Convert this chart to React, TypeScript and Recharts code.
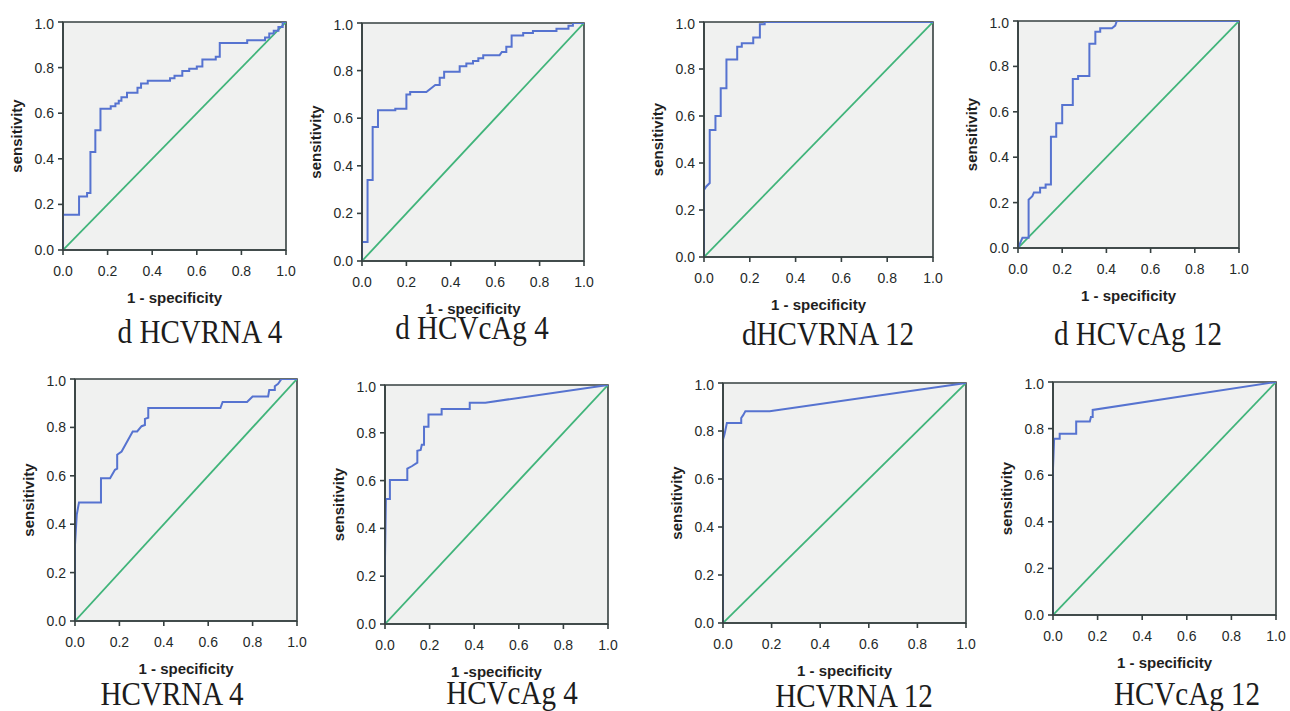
import { LineChart, Line, XAxis, YAxis, ReferenceArea } from 'recharts';

type Pt = [number, number];

// ROC coordinates (1 - specificity, sensitivity)
const dHcvRna4: Pt[] = [
    [0, 0], [0, 0.155], [0.072, 0.155], [0.072, 0.235], [0.108, 0.235], [0.108, 0.25],
    [0.123, 0.25], [0.123, 0.43], [0.145, 0.43], [0.145, 0.525], [0.168, 0.525], [0.168, 0.62],
    [0.214, 0.62], [0.214, 0.63], [0.235, 0.63], [0.235, 0.642], [0.25, 0.642], [0.25, 0.655],
    [0.262, 0.655], [0.262, 0.67], [0.287, 0.67], [0.287, 0.69], [0.334, 0.69], [0.334, 0.712],
    [0.35, 0.712], [0.35, 0.73], [0.38, 0.73], [0.38, 0.742], [0.48, 0.742], [0.48, 0.753],
    [0.5, 0.753], [0.5, 0.764], [0.535, 0.764], [0.535, 0.785], [0.566, 0.785], [0.566, 0.795],
    [0.6, 0.795], [0.6, 0.805], [0.625, 0.805], [0.625, 0.835], [0.685, 0.835], [0.685, 0.848],
    [0.703, 0.848], [0.703, 0.908], [0.826, 0.908], [0.826, 0.92], [0.906, 0.92], [0.906, 0.932],
    [0.925, 0.932], [0.925, 0.95], [0.945, 0.95], [0.945, 0.962], [0.966, 0.962], [0.966, 0.978],
    [0.985, 0.978], [0.985, 1], [1, 1],
];

const dHcvcAg4: Pt[] = [
    [0, 0], [0, 0.08], [0.025, 0.08], [0.025, 0.34], [0.048, 0.34], [0.048, 0.563],
    [0.072, 0.563], [0.072, 0.633], [0.15, 0.633], [0.15, 0.64], [0.2, 0.64], [0.2, 0.7],
    [0.217, 0.7], [0.217, 0.71], [0.29, 0.71], [0.31, 0.725], [0.33, 0.74], [0.35, 0.74],
    [0.35, 0.77], [0.37, 0.77], [0.37, 0.795], [0.44, 0.795], [0.44, 0.818], [0.47, 0.818],
    [0.47, 0.83], [0.5, 0.83], [0.5, 0.84], [0.524, 0.84], [0.524, 0.852], [0.546, 0.852],
    [0.546, 0.865], [0.62, 0.865], [0.63, 0.878], [0.65, 0.878], [0.65, 0.9], [0.674, 0.9],
    [0.674, 0.948], [0.726, 0.948], [0.726, 0.958], [0.77, 0.958], [0.77, 0.966], [0.876, 0.966],
    [0.876, 0.976], [0.93, 0.976], [0.93, 0.988], [0.95, 0.988], [0.95, 1], [1, 1],
];

const dHcvRna12: Pt[] = [
    [0, 0], [0, 0.285], [0.01, 0.3], [0.025, 0.315], [0.025, 0.54], [0.05, 0.54],
    [0.05, 0.6], [0.073, 0.6], [0.073, 0.718], [0.098, 0.718], [0.098, 0.84], [0.145, 0.84],
    [0.145, 0.895], [0.165, 0.895], [0.165, 0.91], [0.215, 0.91], [0.215, 0.934], [0.244, 0.934],
    [0.244, 0.99], [0.265, 0.99], [0.265, 1], [1, 1],
];

const dHcvcAg12: Pt[] = [
    [0, 0], [0.02, 0.045], [0.048, 0.045], [0.048, 0.213], [0.065, 0.228], [0.072, 0.245],
    [0.1, 0.245], [0.1, 0.265], [0.125, 0.265], [0.125, 0.28], [0.149, 0.28], [0.149, 0.49],
    [0.173, 0.49], [0.173, 0.55], [0.2, 0.55], [0.2, 0.63], [0.248, 0.63], [0.248, 0.745],
    [0.272, 0.745], [0.272, 0.758], [0.323, 0.758], [0.323, 0.9], [0.35, 0.9], [0.35, 0.953],
    [0.372, 0.953], [0.372, 0.968], [0.425, 0.968], [0.44, 0.98], [0.447, 1], [1, 1],
];

const hcvRna4: Pt[] = [
    [0, 0], [0, 0.315], [0.008, 0.44], [0.018, 0.49], [0.117, 0.49], [0.117, 0.59],
    [0.158, 0.59], [0.18, 0.625], [0.19, 0.63], [0.19, 0.687], [0.21, 0.7], [0.24, 0.75],
    [0.26, 0.783], [0.28, 0.783], [0.3, 0.805], [0.315, 0.81], [0.315, 0.835], [0.33, 0.84],
    [0.33, 0.88], [0.655, 0.88], [0.665, 0.905], [0.775, 0.905], [0.8, 0.928], [0.87, 0.928],
    [0.875, 0.955], [0.9, 0.955], [0.9, 0.97], [0.915, 0.98], [0.93, 1], [1, 1],
];

const hcvcAg4: Pt[] = [
    [0, 0], [0, 0.274], [0.004, 0.523], [0.022, 0.523], [0.022, 0.602], [0.1, 0.602],
    [0.1, 0.65], [0.12, 0.66], [0.145, 0.675], [0.145, 0.725], [0.16, 0.728], [0.165, 0.75],
    [0.175, 0.75], [0.175, 0.825], [0.195, 0.825], [0.195, 0.877], [0.254, 0.877], [0.254, 0.9],
    [0.38, 0.9], [0.38, 0.926], [0.45, 0.926], [1, 1],
];

const hcvRna12: Pt[] = [
    [0, 0], [0, 0.765], [0.006, 0.785], [0.016, 0.833], [0.075, 0.833], [0.075, 0.854],
    [0.083, 0.866], [0.092, 0.882], [0.192, 0.882], [1, 1],
];

const hcvcAg12: Pt[] = [
    [0, 0], [0, 0.63], [0.005, 0.756], [0.03, 0.756], [0.03, 0.778], [0.104, 0.778],
    [0.104, 0.83], [0.165, 0.83], [0.17, 0.85], [0.178, 0.85], [0.178, 0.88], [1, 1],
];

const chance: Pt[] = [[0, 0], [1, 1]];
const ticks = [0, 0.2, 0.4, 0.6, 0.8, 1.0];

const BLUE = '#5673d0';
const GREEN = '#40b47a';
const AXIS = '#364040';
const Y_AXIS_W = 92;
const X_AXIS_H = 96;
const PAD = 6;
const PAD_RIGHT = 22;

// plot box (px, py, pw, ph) and caption centre / baseline
const panels = [
    { roc: dHcvRna4, xLabel: '1 - specificity', title: 'd HCVRNA 4', px: 63, py: 22, pw: 223, ph: 228, tx: 200, ty: 343 },
    { roc: dHcvcAg4, xLabel: '1 - specificity', title: 'd HCVcAg 4', px: 362, py: 23, pw: 222, ph: 238, tx: 472, ty: 339 },
    { roc: dHcvRna12, xLabel: '1 - specificity', title: 'dHCVRNA 12', px: 704, py: 22, pw: 229, ph: 235, tx: 828, ty: 345 },
    { roc: dHcvcAg12, xLabel: '1 - specificity', title: 'd HCVcAg 12', px: 1018, py: 21, pw: 221, ph: 227, tx: 1138, ty: 345 },
    { roc: hcvRna4, xLabel: '1 - specificity', title: 'HCVRNA 4', px: 75, py: 379, pw: 222, ph: 242, tx: 172, ty: 705 },
    { roc: hcvcAg4, xLabel: '1 -specificity', title: 'HCVcAg 4', px: 385, py: 385, pw: 223, ph: 239, tx: 512, ty: 704 },
    { roc: hcvRna12, xLabel: '1 - specificity', title: 'HCVRNA 12', px: 723, py: 383, pw: 243, ph: 240, tx: 854, ty: 707 },
    { roc: hcvcAg12, xLabel: '1 - specificity', title: 'HCVcAg 12', px: 1053, py: 382, pw: 223, ph: 233, tx: 1187, ty: 705 },
];

const toRows = (pts: Pt[]) => pts.map(([x, y]) => ({ x, y }));
const tickStyle = { fill: '#1f2a2a', fontSize: 14, fontFamily: '"Liberation Sans", Arial, sans-serif' };
const labelStyle = { fill: '#1f1f1f', fontSize: 15, fontWeight: 700, fontFamily: '"Liberation Sans", Arial, sans-serif' };

function RocPanel({ p }: { p: typeof panels[number] }) {
    return (
        <div style={{ position: 'absolute', left: p.px - Y_AXIS_W, top: p.py - PAD }}>
            <LineChart
                width={p.pw + Y_AXIS_W + PAD_RIGHT}
                height={p.ph + PAD + X_AXIS_H}
                margin={{ top: PAD, right: PAD_RIGHT, left: 0, bottom: 0 }}
            >
                <ReferenceArea x1={0} x2={1} y1={0} y2={1} fill="#f0f1f0" fillOpacity={1} stroke={AXIS} strokeWidth={1.6} />
                <XAxis
                    type="number"
                    dataKey="x"
                    domain={[0, 1]}
                    ticks={ticks}
                    tickFormatter={(v: number) => v.toFixed(1)}
                    height={X_AXIS_H}
                    tickSize={5}
                    tickMargin={11}
                    tick={tickStyle}
                    stroke={AXIS}
                    strokeWidth={1.6}
                    allowDataOverflow
                    label={{ value: p.xLabel, position: 'center', style: labelStyle }}
                />
                <YAxis
                    type="number"
                    dataKey="y"
                    domain={[0, 1]}
                    ticks={ticks}
                    tickFormatter={(v: number) => v.toFixed(1)}
                    width={Y_AXIS_W}
                    tickSize={5}
                    tickMargin={4}
                    tick={tickStyle}
                    stroke={AXIS}
                    strokeWidth={1.6}
                    allowDataOverflow
                    label={{ value: 'sensitivity', position: 'center', angle: -90, style: labelStyle }}
                />
                <Line data={toRows(chance)} dataKey="y" type="linear" stroke={GREEN} strokeWidth={1.8} dot={false} isAnimationActive={false} />
                <Line data={toRows(p.roc)} dataKey="y" type="linear" stroke={BLUE} strokeWidth={2} dot={false} isAnimationActive={false} />
            </LineChart>
            <div
                style={{
                    position: 'absolute',
                    left: p.tx - (p.px - Y_AXIS_W) - 150,
                    top: p.ty - p.py + PAD - 28.5,
                    width: 300,
                    textAlign: 'center',
                    fontFamily: '"Liberation Serif", "Times New Roman", serif',
                    fontSize: 34,
                    lineHeight: 1,
                    color: '#1c1c1c',
                    whiteSpace: 'nowrap',
                    transform: 'scaleX(0.855)',
                }}
            >
                {p.title}
            </div>
        </div>
    );
}

export default function App() {
    return (
        <div style={{ position: 'absolute', left: 0, top: 0, width: 1290, height: 711, background: '#fff', overflow: 'hidden' }}>
            {panels.map((p) => <RocPanel key={p.title} p={p} />)}
        </div>
    );
}
